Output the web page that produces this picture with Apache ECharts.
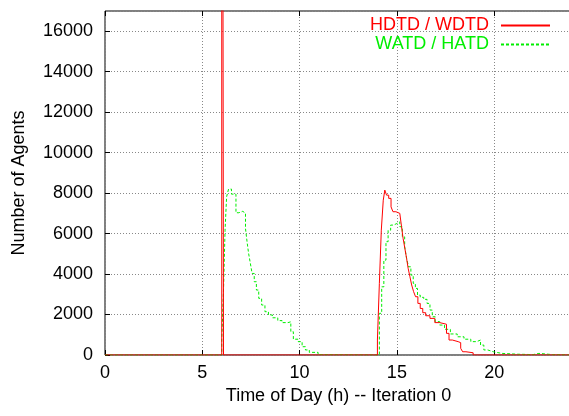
<!DOCTYPE html>
<html>
<head>
<meta charset="utf-8">
<script src="https://cdn.jsdelivr.net/npm/echarts@6/dist/echarts.min.js"></script>
<style>html,body{margin:0;padding:0;background:#fff;}#c{width:569px;height:416px;}</style>
</head>
<body>
<div id="c"></div>
<script>
// Series: HDTD / WDTD (red) — [hour, agents] step starts
const redHours = [0, 6.0, 6.09, 14.0, 14.1, 14.2, 14.3, 14.38, 14.47, 14.58, 14.7, 14.8, 14.95, 15.15, 15.24, 15.32, 15.41, 15.5, 15.58, 15.67, 15.76, 15.86, 15.96, 16.08, 16.2, 16.33, 16.48, 16.7, 16.95, 17.2, 17.55, 17.68, 17.85, 18.15, 18.28, 18.38, 18.55, 18.92, 24];
const redValues = [0, 60000, 0, 740, 3540, 6170, 7650, 8150, 7900, 7740, 7320, 7080, 7000, 6950, 6340, 5760, 5270, 4770, 4280, 3870, 3460, 3130, 2880, 2550, 2300, 2090, 1940, 1810, 1600, 1520, 1070, 740, 660, 610, 330, 160, 110, 0, 0];

// Series: WATD / HATD (green)
const greenHours = [0, 6.0, 6.1, 6.17, 6.25, 6.35, 6.5, 6.73, 6.88, 7.08, 7.22, 7.3, 7.38, 7.47, 7.56, 7.67, 7.78, 7.9, 8.05, 8.22, 8.4, 8.6, 8.88, 9.1, 9.4, 9.55, 9.68, 9.92, 10.13, 10.3, 10.5, 10.95, 11.1, 14.1, 14.22, 14.33, 14.44, 14.55, 14.68, 14.83, 15.0, 15.15, 15.28, 15.4, 15.5, 15.6, 15.72, 15.84, 15.95, 16.06, 16.2, 16.38, 16.55, 16.7, 16.82, 16.97, 17.2, 17.45, 17.75, 18.1, 18.45, 18.8, 19.1, 19.3, 19.47, 19.67, 19.95, 20.4, 21.2, 22.0, 22.3, 23.0, 24];
const greenValues = [0, 740, 3540, 6170, 7820, 8200, 7950, 7030, 7100, 7010, 6250, 5600, 5020, 4530, 4030, 3620, 3210, 2800, 2470, 2140, 1980, 1840, 1700, 1600, 1640, 1150, 780, 660, 410, 250, 130, 20, 0, 2060, 3370, 4690, 5600, 6170, 6420, 6500, 6580, 6340, 5840, 5350, 4770, 4360, 3950, 3540, 3290, 2960, 2850, 2750, 2550, 2220, 1890, 1650, 1480, 1270, 1040, 900, 780, 660, 740, 490, 250, 160, 80, 40, 20, 80, 20, 0, 0];

const seriesNames = ['HDTD / WDTD', 'WATD / HATD'];
const xTicks = [0, 5, 10, 15, 20];
const yTicks = [0, 2000, 4000, 6000, 8000, 10000, 12000, 14000, 16000];
const xTitle = 'Time of Day (h) -- Iteration 0';
const yTitle = 'Number of Agents';

function pairs(h, v) { return h.map((x, i) => [x, v[i]]); }

const FONT = '"Liberation Sans", Arial, sans-serif';
const chart = echarts.init(document.getElementById('c'), null, {renderer: 'canvas'});
chart.setOption({
  animation: false,
  backgroundColor: '#fff',
  textStyle: {fontFamily: FONT},
  grid: {left: 105, top: 11, height: 344, width: 467, containLabel: false, outerBoundsMode: 'none',
    show: true, borderColor: '#000', borderWidth: 1, backgroundColor: 'transparent'},
  legend: {
    orient: 'vertical', right: 18, top: 16, align: 'right', padding: 0,
    itemWidth: 49, itemHeight: 14, itemGap: 0,
    itemStyle: {opacity: 0},
    textStyle: {fontSize: 18, fontFamily: FONT, lineHeight: 19, padding: [0, 7, 0, 0]},
    data: [
      {name: seriesNames[0], textStyle: {color: '#ff0000'}},
      {name: seriesNames[1], textStyle: {color: '#00ee00'}}
    ]
  },
  xAxis: [{
    type: 'value', min: 0, max: 24, interval: 5,
    name: xTitle, nameLocation: 'middle', nameGap: 29,
    nameTextStyle: {fontSize: 18, color: '#000', fontFamily: FONT},
    axisLine: {show: false},
    axisTick: {show: true, inside: true, length: 5, lineStyle: {color: '#000'}},
    axisLabel: {fontSize: 18, color: '#000', margin: 9, fontFamily: FONT, showMaxLabel: false,
      formatter: v => xTicks.includes(v) ? String(v) : ''},
    splitLine: {show: true, lineStyle: {color: '#888', type: [1, 2], width: 1}}
  }, {
    type: 'value', min: 0, max: 24, interval: 5, position: 'top',
    axisLine: {show: false},
    axisTick: {show: true, inside: true, length: 5, lineStyle: {color: '#000'}},
    axisLabel: {show: false}, splitLine: {show: false}
  }],
  yAxis: {
    type: 'value', min: 0, max: 17000, interval: 2000,
    name: yTitle, nameLocation: 'middle', nameGap: 77,
    nameTextStyle: {fontSize: 18, color: '#000', fontFamily: FONT},
    axisLine: {show: false},
    axisTick: {show: true, inside: true, length: 5, lineStyle: {color: '#000'}},
    axisLabel: {fontSize: 18, color: '#000', margin: 12, fontFamily: FONT, showMaxLabel: false,
      formatter: v => yTicks.includes(v) ? String(v) : ''},
    splitLine: {show: true, lineStyle: {color: '#888', type: [1, 2], width: 1}}
  },
  series: [{
    name: seriesNames[0], type: 'line', step: 'end', symbol: 'none',
    data: pairs(redHours, redValues),
    lineStyle: {color: '#ff0000', width: 1}, itemStyle: {color: '#ff0000'}, clip: true, z: 3
  }, {
    name: seriesNames[1], type: 'line', step: 'end', symbol: 'none',
    data: pairs(greenHours, greenValues),
    lineStyle: {color: '#00ee00', width: 1, type: [3, 2]}, itemStyle: {color: '#00ee00'}, clip: true, z: 2
  }]
});
</script>
</body>
</html>
